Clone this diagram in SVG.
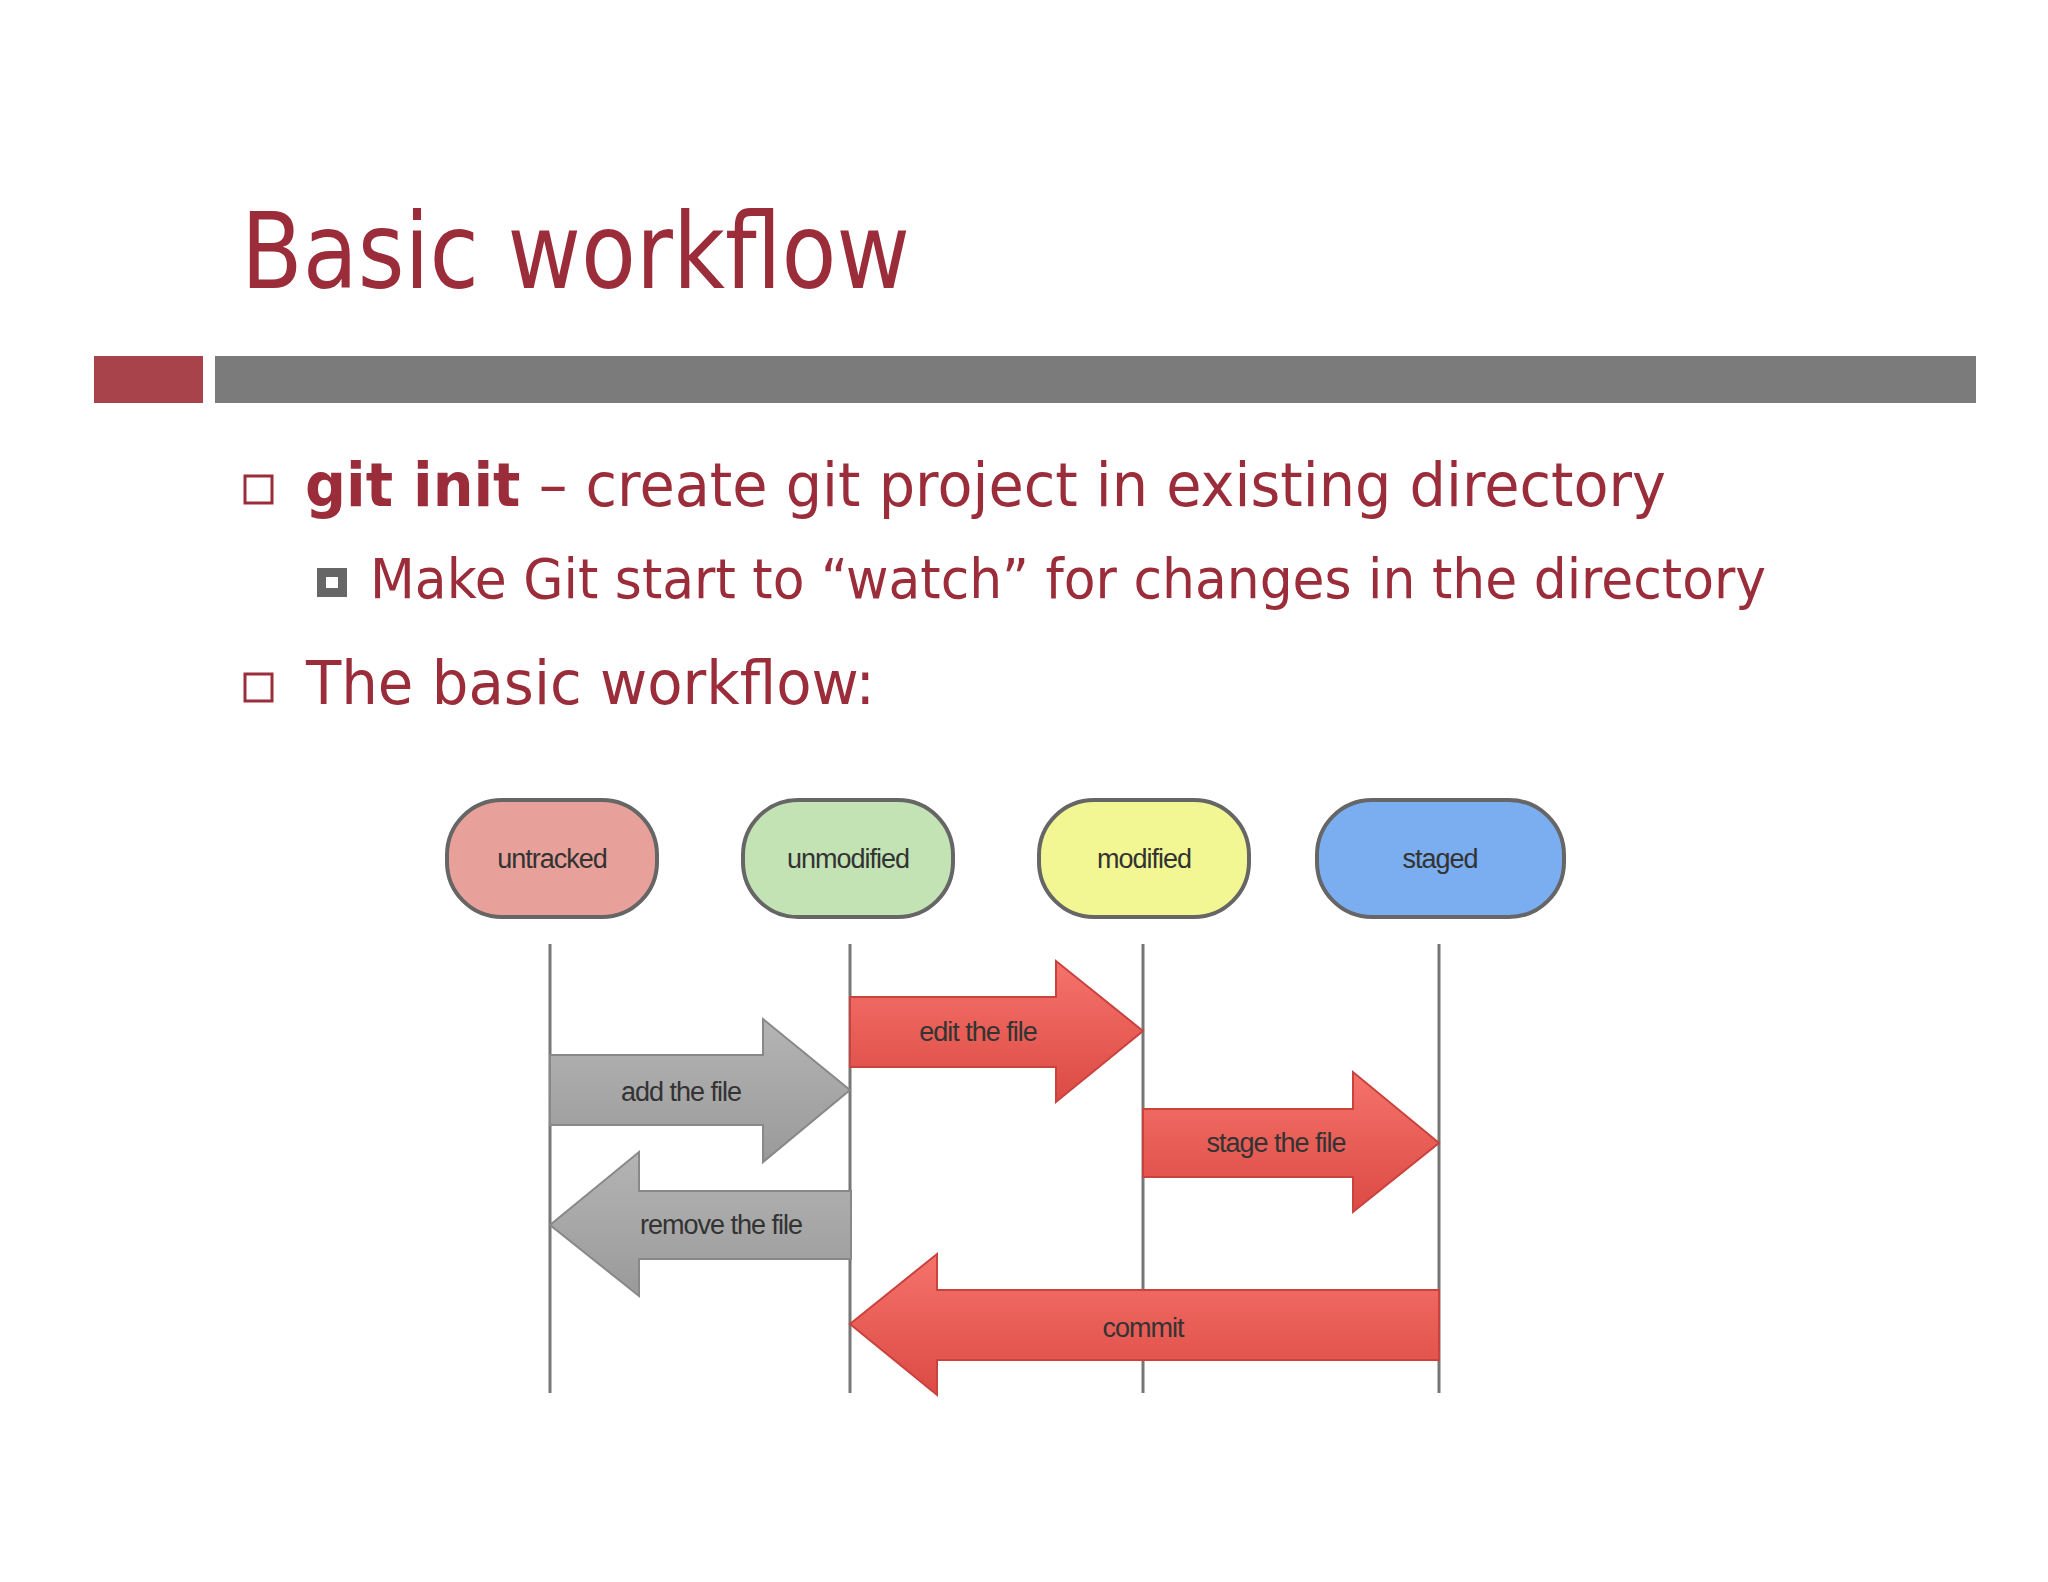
<svg xmlns="http://www.w3.org/2000/svg" width="2048" height="1582" viewBox="0 0 2048 1582">
<defs>
<linearGradient id="red" x1="0" y1="0" x2="0" y2="1"><stop offset="0" stop-color="#f5736b"/><stop offset="1" stop-color="#dc4a44"/></linearGradient>
<linearGradient id="gray" x1="0" y1="0" x2="0" y2="1"><stop offset="0" stop-color="#b4b4b4"/><stop offset="1" stop-color="#9a9a9a"/></linearGradient>
</defs>
<style>
.slide{font-family:"DejaVu Sans","Liberation Sans",sans-serif;fill:#9b2d3a}
.pill{stroke:#666;stroke-width:4}
.lbl{font-family:"Liberation Sans",Arial,sans-serif;font-size:27px;fill:#333;text-anchor:middle;dominant-baseline:central;letter-spacing:-1px}
.vl{stroke:#777;stroke-width:3}
.ra{fill:url(#red);stroke:#c9423d;stroke-width:2}
.ga{fill:url(#gray);stroke:#888;stroke-width:2}
</style>
<rect width="2048" height="1582" fill="#fff"/>
<text class="slide" x="241" y="288" font-size="106" textLength="669" lengthAdjust="spacingAndGlyphs">Basic workflow</text>
<rect x="94" y="356" width="109" height="47" fill="#a8434b"/>
<rect x="215" y="356" width="1761" height="47" fill="#7b7b7b"/>
<rect x="245" y="476" width="27" height="27" fill="none" stroke="#9b2d3a" stroke-width="3"/>
<text class="slide" x="305" y="506" font-size="60" textLength="1361" lengthAdjust="spacingAndGlyphs"><tspan font-weight="bold">git init</tspan> – create git project in existing directory</text>
<rect x="317" y="568" width="30" height="29" fill="#666"/>
<rect x="326" y="577" width="12" height="11" fill="#fff"/>
<text class="slide" x="370" y="598" font-size="55" textLength="1396" lengthAdjust="spacingAndGlyphs">Make Git start to “watch” for changes in the directory</text>
<rect x="245" y="674" width="27" height="27" fill="none" stroke="#9b2d3a" stroke-width="3"/>
<text class="slide" x="306" y="704" font-size="60" textLength="569" lengthAdjust="spacingAndGlyphs">The basic workflow:</text>
<g id="connectors">
<line class="vl" x1="550" y1="944" x2="550" y2="1393"/>
<line class="vl" x1="850" y1="944" x2="850" y2="1393"/>
<line class="vl" x1="1143" y1="944" x2="1143" y2="1393"/>
<line class="vl" x1="1439" y1="944" x2="1439" y2="1393"/>
</g>
<g id="n-untracked"><rect class="pill" x="447" y="800" width="210" height="117" rx="55" fill="#e8a09a"/><text class="lbl" x="552" y="859">untracked</text></g>
<g id="n-unmodified"><rect class="pill" x="743" y="800" width="210" height="117" rx="55" fill="#c4e3b5"/><text class="lbl" x="848" y="859">unmodified</text></g>
<g id="n-modified"><rect class="pill" x="1039" y="800" width="210" height="117" rx="55" fill="#f2f793"/><text class="lbl" x="1144" y="859">modified</text></g>
<g id="n-staged"><rect class="pill" x="1317" y="800" width="247" height="117" rx="55" fill="#7baef0"/><text class="lbl" x="1440" y="859">staged</text></g>
<g id="a-edit"><polygon class="ra" points="850,997 1056,997 1056,961 1143,1031 1056,1102 1056,1067 850,1067"/><text class="lbl" x="978" y="1032">edit the file</text></g>
<g id="a-add"><polygon class="ga" points="550,1055 763,1055 763,1019 850,1090 763,1162 763,1125 550,1125"/><text class="lbl" x="681" y="1092">add the file</text></g>
<g id="a-stage"><polygon class="ra" points="1143,1109 1353,1109 1353,1072 1439,1143 1353,1212 1353,1177 1143,1177"/><text class="lbl" x="1276" y="1143">stage the file</text></g>
<g id="a-remove"><polygon class="ga" points="851,1191 639,1191 639,1152 550,1225 639,1296 639,1259 851,1259"/><text class="lbl" x="721" y="1225">remove the file</text></g>
<g id="a-commit"><polygon class="ra" points="1439,1290 937,1290 937,1254 850,1324 937,1395 937,1360 1439,1360"/><text class="lbl" x="1143" y="1328">commit</text></g>
</svg>
